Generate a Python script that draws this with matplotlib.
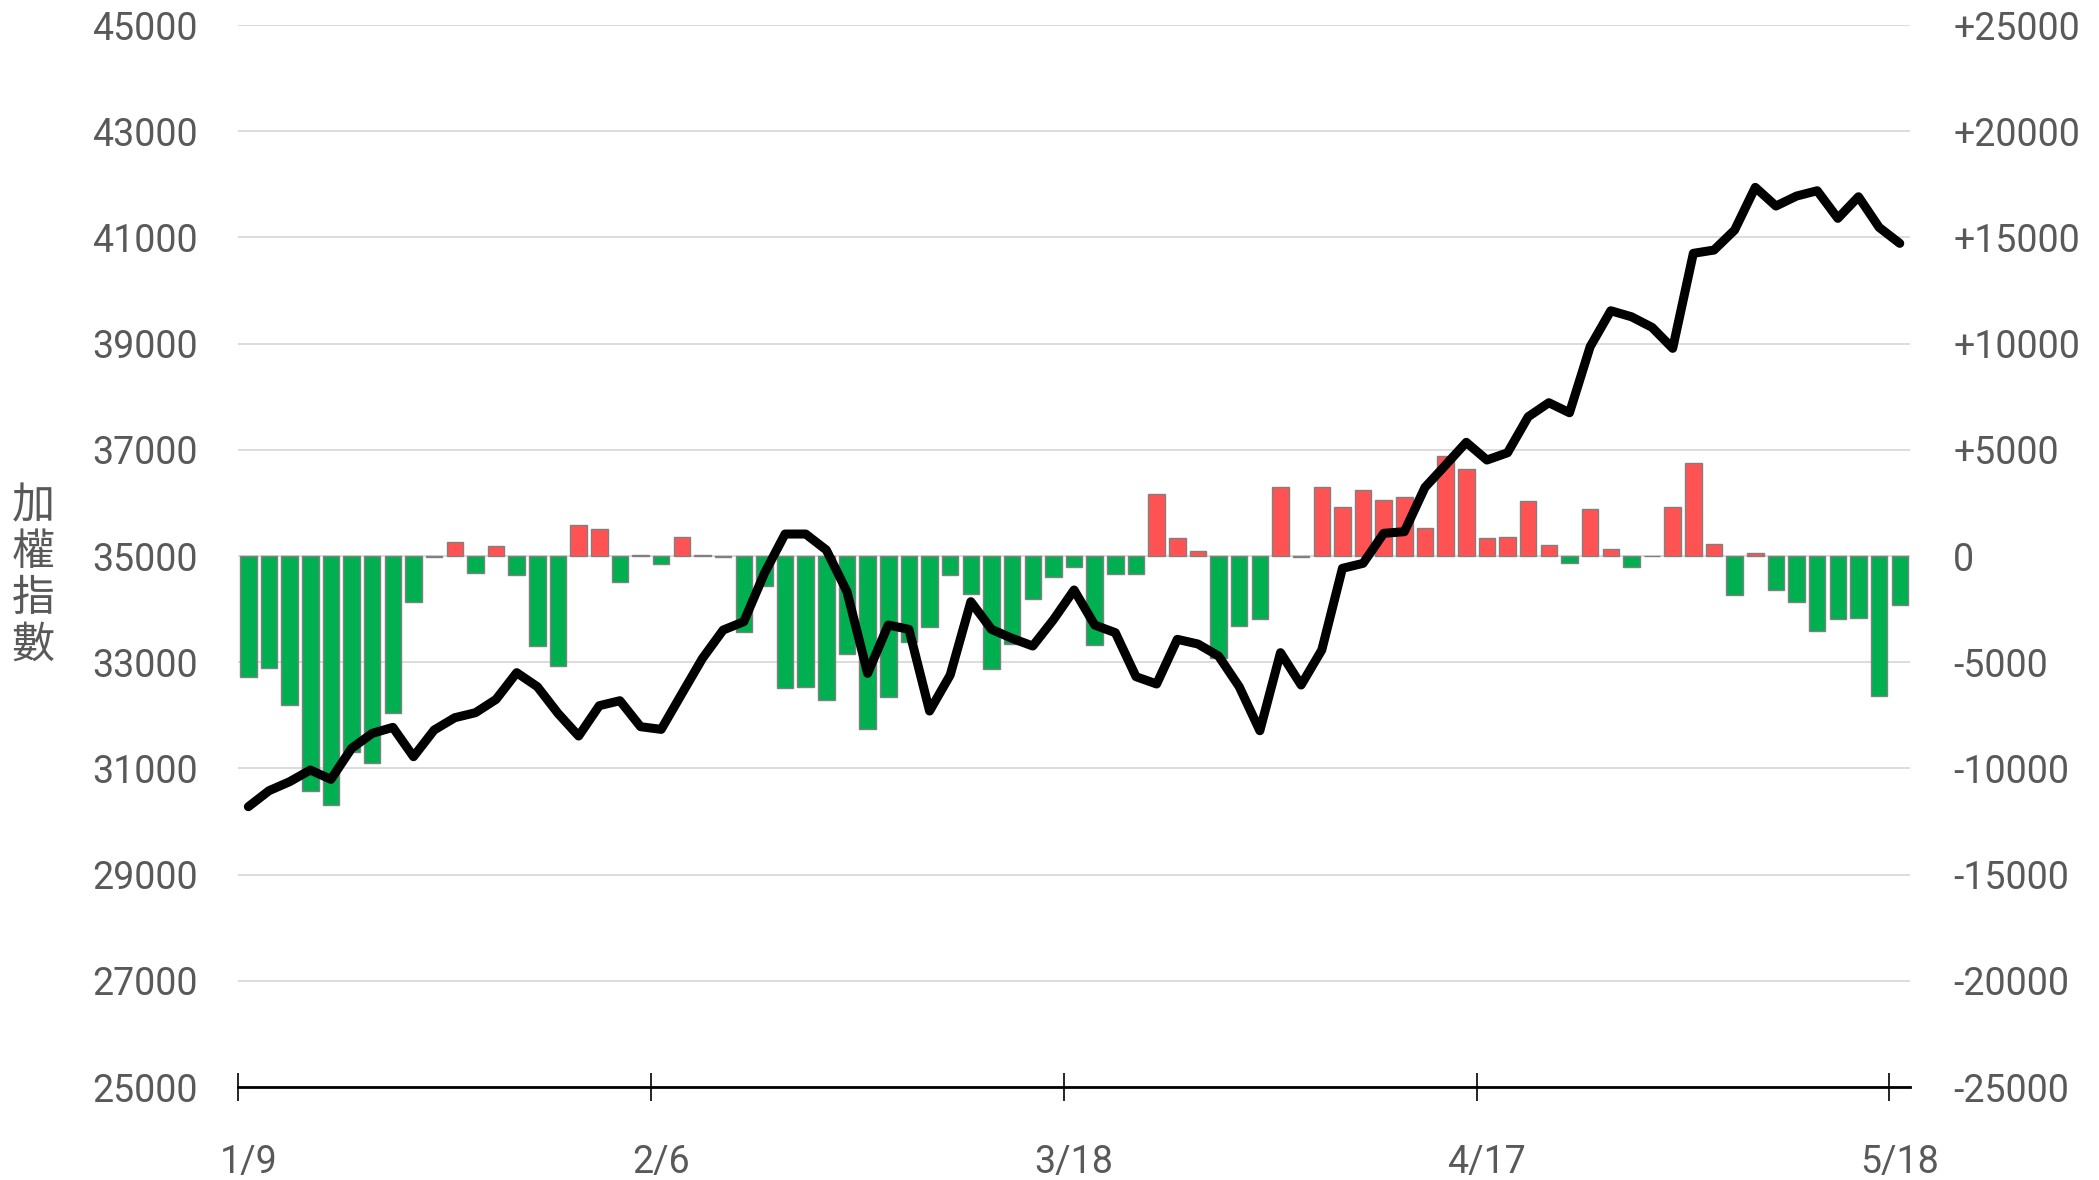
import matplotlib
matplotlib.use("Agg")
from matplotlib import pyplot as plt
from matplotlib.ticker import FuncFormatter, FixedLocator

plt.rcParams['font.family'] = ['Roboto', 'Noto Sans CJK TC', 'DejaVu Sans']

# 加權指數 (left axis) and daily net buy/sell (right axis, bars)
index_vals = [30279, 30580, 30750, 30970, 30794, 31378, 31660, 31773, 31221, 31723,
              31955, 32049, 32300, 32803, 32539, 32037, 31610, 32181, 32275, 31786,
              31735, 32407, 33073, 33606, 33763, 34674, 35414, 35414, 35113, 34328,
              32790, 33700, 33619, 32081, 32759, 34140, 33619, 33449, 33305, 33800,
              34360, 33700, 33556, 32728, 32590, 33431, 33343, 33117, 32539, 31710,
              33180, 32571, 33230, 34768, 34862, 35427, 35458, 36293, 36714, 37141,
              36808, 36945, 37623, 37887, 37698, 38941, 39619, 39506, 39306, 38911,
              40700, 40762, 41139, 41943, 41591, 41779, 41879, 41359, 41766, 41189,
              40888]
bar_vals = [-5680, -5272, -7029, -11077, -11720, -9210, -9759, -7406, -2150, -60,
            675, -785, 455, -910, -4236, -5178, 1459, 1287, -1224, 40,
            -377, 910, 30, -30, -3562, -1396, -6198, -6150, -6778, -4613,
            -8159, -6621, -4032, -3326, -894, -1789, -5335, -4142, -2040, -1004,
            -533, -4189, -863, -847, 2918, 863, 251, -4785, -3279, -2981,
            3264, -60, 3264, 2291, 3107, 2636, 2793, 1302, 4723, 4095,
            832, 910, 2589, 518, -345, 2212, 330, -502, 10, 2291,
            4378, 549, -1820, 126, -1616, -2165, -3515, -2965, -2934, -6574,
            -2291]
date_labels = ['1/9', '2/6', '3/18', '4/17', '5/18']
label_idx = [0, 20, 40, 60, 80]

x = list(range(len(index_vals)))
colors = ['#ff5252' if v > 0 else '#00b050' for v in bar_vals]

fig = plt.figure(figsize=(20.99, 11.80), dpi=100)
ax = fig.add_axes([0.1134, 0.0788, 0.7966, 0.9])
ax2 = ax.twinx()

# bars on right axis, below the line
ax2.bar(x, bar_vals, width=0.8, color=colors, edgecolor='#808080', linewidth=1.0, zorder=2)
ax2.set_ylim(-25000, 25000)
ax2.yaxis.set_major_locator(FixedLocator(range(-25000, 25001, 5000)))
ax2.yaxis.set_major_formatter(FuncFormatter(lambda v, p: f'+{int(v)}' if v > 0 else f'{int(v)}'))
ax2.yaxis.grid(True, color='#d9d9d9', linewidth=1.3, zorder=0)
ax2.set_axisbelow(True)
ax2.tick_params(axis='y', length=0, pad=31, labelsize=27, labelcolor='#595959')
for s in ax2.spines.values():
    s.set_visible(False)

ax.plot(x, index_vals, color='black', linewidth=6.5, solid_joinstyle='round',
        solid_capstyle='round', zorder=3)
ax.set_ylim(25000, 45000)
ax.yaxis.set_major_locator(FixedLocator(range(25000, 45001, 2000)))
ax.tick_params(axis='y', length=0, pad=29, labelsize=27, labelcolor='#595959')
ax.set_zorder(ax2.get_zorder() + 1)
ax.patch.set_visible(False)

ax.set_xlim(-0.5, len(x) - 0.5)
ax.set_xticks([i - 0.5 for i in label_idx])
ax.set_xticklabels([])
ax.set_xticks(label_idx, minor=True)
ax.set_xticklabels(date_labels, minor=True)
ax.tick_params(axis='x', which='major', direction='inout', length=20, width=1.2, color='black')
ax.tick_params(axis='x', which='minor', length=0, pad=41, labelsize=27, labelcolor='#595959')

for name, s in ax.spines.items():
    s.set_visible(name == 'bottom')
ax.spines['bottom'].set_color('black')
ax.spines['bottom'].set_linewidth(2)

fig.text(33 / 2099, 1 - 576 / 1180, '加\n權\n指\n數', ha='center', va='center',
         fontsize=31, color='#595959', family=['Noto Sans CJK TC'], linespacing=1.07)

fig.savefig('out.png', dpi=100, facecolor='white')
